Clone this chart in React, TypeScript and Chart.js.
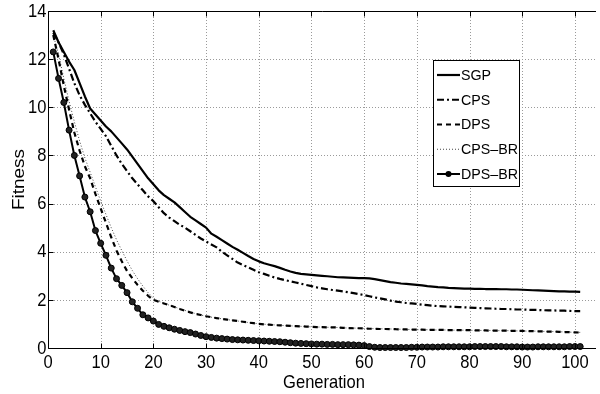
import React, { useEffect, useRef } from "react";
import { Chart, registerables } from "chart.js";

Chart.register(...registerables);

const GENERATIONS = [
  1, 2, 3, 4, 5, 6, 7, 8, 9, 10, 11, 12, 13, 14, 15, 16, 17, 18, 19, 20,
  21, 22, 23, 24, 25, 26, 27, 28, 29, 30, 31, 32, 33, 34, 35, 36, 37, 38, 39, 40,
  41, 42, 43, 44, 45, 46, 47, 48, 49, 50, 51, 52, 53, 54, 55, 56, 57, 58, 59, 60,
  61, 62, 63, 64, 65, 66, 67, 68, 69, 70, 71, 72, 73, 74, 75, 76, 77, 78, 79, 80,
  81, 82, 83, 84, 85, 86, 87, 88, 89, 90, 91, 92, 93, 94, 95, 96, 97, 98, 99, 100, 101,
];

const SGP = [
  13.2, 12.7, 12.3, 11.9, 11.55, 11.0, 10.45, 9.95, 9.7, 9.45,
  9.2, 9.0, 8.75, 8.5, 8.25, 7.95, 7.65, 7.35, 7.05, 6.8,
  6.55, 6.35, 6.2, 6.05, 5.85, 5.65, 5.45, 5.3, 5.15, 5.0,
  4.75, 4.62, 4.48, 4.34, 4.2, 4.08, 3.95, 3.82, 3.7, 3.6,
  3.52, 3.46, 3.4, 3.33, 3.25, 3.18, 3.12, 3.08, 3.06, 3.04,
  3.02, 3.0, 2.98, 2.96, 2.94, 2.93, 2.92, 2.91, 2.9, 2.9,
  2.89, 2.86, 2.82, 2.78, 2.74, 2.71, 2.68, 2.66, 2.64, 2.62,
  2.6, 2.57, 2.55, 2.53, 2.52, 2.5, 2.49, 2.48, 2.47, 2.47,
  2.46, 2.46, 2.45, 2.45, 2.45, 2.44, 2.44, 2.43, 2.43, 2.42,
  2.41, 2.4, 2.39, 2.38, 2.37, 2.36, 2.35, 2.35, 2.34, 2.34, 2.33,
];

const CPS = [
  13.1, 12.7, 12.2, 11.6, 11.0, 10.5, 10.1, 9.75, 9.4, 9.1,
  8.8, 8.4, 8.0, 7.65, 7.35, 7.05, 6.8, 6.55, 6.3, 6.1,
  5.85, 5.6, 5.42, 5.27, 5.12, 5.0, 4.85, 4.7, 4.55, 4.42,
  4.3, 4.18, 4.0, 3.85, 3.7, 3.55, 3.45, 3.35, 3.25, 3.15,
  3.08, 3.0, 2.93, 2.87, 2.82, 2.77, 2.72, 2.67, 2.62, 2.57,
  2.52, 2.48, 2.44, 2.41, 2.38, 2.35, 2.32, 2.28, 2.24, 2.2,
  2.15, 2.1, 2.06, 2.02, 1.97, 1.93, 1.9, 1.87, 1.85, 1.83,
  1.8, 1.78, 1.76, 1.74, 1.73, 1.72, 1.71, 1.7, 1.69, 1.68,
  1.67, 1.66, 1.65, 1.64, 1.63, 1.62, 1.62, 1.61, 1.6, 1.6,
  1.59, 1.58, 1.58, 1.57, 1.56, 1.56, 1.55, 1.55, 1.54, 1.53, 1.53,
];

const DPS = [
  13.0, 12.0, 10.9, 9.9, 8.95, 8.2, 7.55, 7.05, 6.4, 5.8,
  5.2, 4.6, 4.05, 3.6, 3.2, 2.9, 2.62, 2.38, 2.17, 2.0,
  1.92, 1.85, 1.78, 1.7, 1.62, 1.55, 1.48, 1.42, 1.37, 1.32,
  1.28, 1.24, 1.21, 1.18, 1.15, 1.12, 1.09, 1.06, 1.03, 1.0,
  0.98, 0.97, 0.95, 0.94, 0.93, 0.92, 0.91, 0.9, 0.89, 0.88,
  0.87, 0.87, 0.86, 0.86, 0.85, 0.84, 0.83, 0.82, 0.82, 0.81,
  0.8, 0.8, 0.79, 0.79, 0.78, 0.78, 0.77, 0.77, 0.76, 0.76,
  0.76, 0.75, 0.75, 0.75, 0.75, 0.74, 0.74, 0.74, 0.74, 0.74,
  0.73, 0.73, 0.73, 0.72, 0.72, 0.72, 0.72, 0.71, 0.71, 0.71,
  0.7, 0.7, 0.69, 0.69, 0.68, 0.68, 0.67, 0.66, 0.66, 0.65, 0.64,
];

const CPS_BR = [
  13.0, 12.2, 11.2, 10.25, 9.4, 8.6, 7.9, 7.3, 6.7, 6.1,
  5.55, 5.0, 4.5, 4.05, 3.62, 3.22, 2.88, 2.57, 2.3, 2.07,
  1.94, 1.86, 1.78, 1.71, 1.63, 1.56, 1.49, 1.43, 1.37, 1.32,
  1.28, 1.25, 1.21, 1.18, 1.15, 1.12, 1.09, 1.06, 1.03, 1.01,
  0.99, 0.97, 0.96, 0.94, 0.93, 0.92, 0.91, 0.9, 0.89, 0.88,
  0.87, 0.87, 0.86, 0.86, 0.85, 0.84, 0.83, 0.83, 0.82, 0.81,
  0.81, 0.8, 0.8, 0.79, 0.79, 0.78, 0.78, 0.77, 0.77, 0.76,
  0.76, 0.76, 0.75, 0.75, 0.75, 0.75, 0.74, 0.74, 0.74, 0.74,
  0.73, 0.73, 0.73, 0.73, 0.72, 0.72, 0.72, 0.72, 0.71, 0.71,
  0.7, 0.7, 0.7, 0.69, 0.69, 0.68, 0.67, 0.67, 0.66, 0.65, 0.65,
];

const DPS_BR = [
  12.3, 11.2, 10.2, 9.05, 8.0, 7.15, 6.27, 5.66, 4.88, 4.35,
  3.85, 3.32, 2.88, 2.6, 2.3, 1.92, 1.65, 1.38, 1.25, 1.12,
  0.98, 0.9, 0.84, 0.78, 0.73, 0.68, 0.64, 0.58, 0.52, 0.47,
  0.44, 0.41, 0.39, 0.37, 0.35, 0.34, 0.33, 0.32, 0.31, 0.3,
  0.29, 0.28, 0.27, 0.26, 0.24, 0.22, 0.2, 0.19, 0.18, 0.17,
  0.16, 0.16, 0.15, 0.15, 0.14, 0.14, 0.14, 0.13, 0.12, 0.1,
  0.06, 0.03, 0.02, 0.02, 0.02, 0.02, 0.02, 0.02, 0.03, 0.03,
  0.04, 0.04, 0.04, 0.04, 0.05, 0.05, 0.05, 0.05, 0.05, 0.05,
  0.06, 0.06, 0.06, 0.06, 0.06, 0.06, 0.05, 0.05, 0.05, 0.04,
  0.04, 0.04, 0.05, 0.05, 0.05, 0.05, 0.05, 0.05, 0.06, 0.06, 0.06,
];

const X_TICKS = [0, 10, 20, 30, 40, 50, 60, 70, 80, 90, 100];
const Y_TICKS = [0, 2, 4, 6, 8, 10, 12, 14];
const SERIES_NAMES = ["SGP", "CPS", "DPS", "CPS\u2013BR", "DPS\u2013BR"];
const X_TITLE = "Generation";
const Y_TITLE = "Fitness";

const FONT = '"Liberation Sans", Arial, Helvetica, sans-serif';

const STYLES = [
  { color: "#000", width: 2.2, dash: [] as number[], point: 0 },
  { color: "#000", width: 2.2, dash: [7, 3, 2, 3], point: 0 },
  { color: "#000", width: 2.2, dash: [5, 4], point: 0 },
  { color: "#444", width: 1, dash: [1, 2], point: 0 },
  { color: "#000", width: 2, dash: [] as number[], point: 3 },
];

function drawText(
  ctx: CanvasRenderingContext2D,
  text: string,
  x: number,
  y: number,
  size: number,
  sx: number,
  align: CanvasTextAlign,
  baseline: CanvasTextBaseline
) {
  ctx.save();
  ctx.translate(x, y);
  ctx.scale(sx, 1);
  ctx.font = `${size}px ${FONT}`;
  ctx.fillStyle = "#000";
  ctx.textAlign = align;
  ctx.textBaseline = baseline;
  ctx.fillText(text, 0, 0);
  ctx.restore();
}

const decorPlugin = {
  id: "decor",
  beforeDatasetsDraw(chart: any) {
    const ctx: CanvasRenderingContext2D = chart.ctx;
    const { left, right, top, bottom } = chart.chartArea;
    const xs = chart.scales.x;
    const ys = chart.scales.y;
    ctx.save();
    ctx.strokeStyle = "#9a9a9a";
    ctx.lineWidth = 1;
    ctx.setLineDash([1, 2]);
    for (const v of X_TICKS) {
      const px = Math.round(xs.getPixelForValue(v)) + 0.5;
      if (v === 0) continue;
      ctx.beginPath();
      ctx.moveTo(px, top);
      ctx.lineTo(px, bottom);
      ctx.stroke();
    }
    for (const v of Y_TICKS) {
      if (v === 0 || v === 14) continue;
      const py = Math.round(ys.getPixelForValue(v)) + 0.5;
      ctx.beginPath();
      ctx.moveTo(left, py);
      ctx.lineTo(right, py);
      ctx.stroke();
    }
    ctx.restore();
  },
  afterDatasetsDraw(chart: any) {
    const ctx: CanvasRenderingContext2D = chart.ctx;
    const { left, right, top, bottom } = chart.chartArea;
    const xs = chart.scales.x;
    const ys = chart.scales.y;
    ctx.save();
    ctx.strokeStyle = "#000";
    ctx.lineWidth = 1;
    ctx.setLineDash([]);
    const L = Math.round(left) + 0.5;
    const T = Math.round(top) + 0.5;
    const B = Math.round(bottom) + 0.5;
    ctx.beginPath();
    ctx.moveTo(L, T);
    ctx.lineTo(right, T);
    ctx.moveTo(L, T);
    ctx.lineTo(L, B);
    ctx.lineTo(right, B);
    ctx.stroke();
    ctx.beginPath();
    for (const v of X_TICKS) {
      const px = Math.round(xs.getPixelForValue(v)) + 0.5;
      ctx.moveTo(px, T);
      ctx.lineTo(px, T + 5);
      ctx.moveTo(px, B);
      ctx.lineTo(px, B - 5);
    }
    for (const v of Y_TICKS) {
      const py = Math.round(ys.getPixelForValue(v)) + 0.5;
      ctx.moveTo(L, py);
      ctx.lineTo(L + 5, py);
    }
    ctx.stroke();

    for (const v of X_TICKS) {
      drawText(ctx, String(v), xs.getPixelForValue(v), bottom + 15, 19, 0.87, "center", "middle");
    }
    for (const v of Y_TICKS) {
      drawText(ctx, String(v), left - 1.5, ys.getPixelForValue(v) + 0.5, 19, 0.87, "right", "middle");
    }
    drawText(ctx, X_TITLE, (left + right) / 2 + 2, bottom + 40, 19, 0.87, "center", "alphabetic");
    ctx.save();
    ctx.translate(19, (top + bottom) / 2);
    ctx.rotate(-Math.PI / 2);
    ctx.scale(1, 0.87);
    ctx.font = `19px ${FONT}`;
    ctx.fillStyle = "#000";
    ctx.textAlign = "center";
    ctx.textBaseline = "middle";
    ctx.fillText(Y_TITLE, 0, 0);
    ctx.restore();

    const bx = 433.5, by = 60.5, bw = 86, bh = 126;
    ctx.fillStyle = "#fff";
    ctx.fillRect(bx, by, bw, bh);
    ctx.strokeStyle = "#000";
    ctx.lineWidth = 1;
    ctx.strokeRect(bx, by, bw, bh);
    chart.data.datasets.forEach((ds: any, i: number) => {
      const st = STYLES[i];
      const y = 75 + i * 24.75;
      ctx.save();
      ctx.strokeStyle = st.color;
      ctx.lineWidth = st.width;
      ctx.setLineDash(st.dash);
      ctx.beginPath();
      ctx.moveTo(437, y);
      ctx.lineTo(460, y);
      ctx.stroke();
      if (st.point > 0) {
        ctx.setLineDash([]);
        ctx.fillStyle = "#000";
        ctx.beginPath();
        ctx.arc(448.5, y, 3, 0, Math.PI * 2);
        ctx.fill();
      }
      ctx.restore();
      drawText(ctx, ds.label, 461, y + 0.5, 15.5, 0.92, "left", "middle");
    });
    ctx.restore();
  },
};

export default function App() {
  const ref = useRef<HTMLCanvasElement | null>(null);

  useEffect(() => {
    if (!ref.current) return;
    const series = [SGP, CPS, DPS, CPS_BR, DPS_BR];
    const chart = new Chart(ref.current, {
      type: "line",
      data: {
        datasets: series.map((vals, i) => ({
          label: SERIES_NAMES[i],
          data: GENERATIONS.map((g, k) => ({ x: g, y: vals[k] })),
          borderColor: STYLES[i].color,
          borderWidth: STYLES[i].width,
          borderDash: STYLES[i].dash,
          backgroundColor: "#000",
          pointRadius: STYLES[i].point,
          pointBorderWidth: 1,
          pointBorderColor: "#000",
          pointBackgroundColor: "#222",
          pointHoverRadius: STYLES[i].point,
          tension: 0,
          fill: false,
          clip: false as any,
          borderJoinStyle: "round" as any,
        })),
      },
      options: {
        animation: false,
        responsive: false,
        devicePixelRatio: 1,
        layout: { padding: { left: 48, top: 11, right: 0, bottom: 46 } },
        plugins: {
          legend: { display: false },
          tooltip: { enabled: false },
          title: { display: false },
        },
        events: [],
        scales: {
          x: { type: "linear", min: 0, max: 104, display: false },
          y: { type: "linear", min: 0, max: 14, display: false },
        },
      },
      plugins: [decorPlugin],
    });
    return () => chart.destroy();
  }, []);

  return (
    <div style={{ position: "absolute", left: 0, top: 0, width: 600, height: 394, background: "#fff" }}>
      <canvas ref={ref} width={600} height={394} style={{ display: "block" }} />
    </div>
  );
}
